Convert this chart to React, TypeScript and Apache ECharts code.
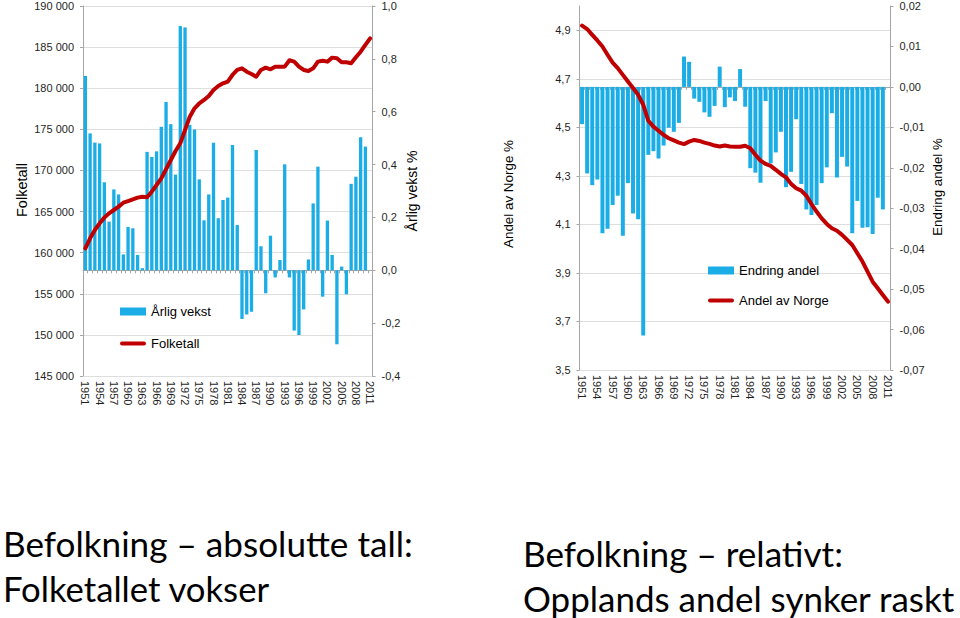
import React, { useEffect, useRef } from 'react';
import * as echarts from 'echarts';

const years = [
  '1951', '1952', '1953', '1954', '1955', '1956', '1957', '1958', '1959', '1960',
  '1961', '1962', '1963', '1964', '1965', '1966', '1967', '1968', '1969', '1970',
  '1971', '1972', '1973', '1974', '1975', '1976', '1977', '1978', '1979', '1980',
  '1981', '1982', '1983', '1984', '1985', '1986', '1987', '1988', '1989', '1990',
  '1991', '1992', '1993', '1994', '1995', '1996', '1997', '1998', '1999', '2000',
  '2001', '2002', '2003', '2004', '2005', '2006', '2007', '2008', '2009', '2010',
  '2011',
];

// Left chart: population (left axis) and annual growth % (right axis)
const folketall = [
  160530, 161750, 162760, 163570, 164260, 164790, 165190, 165600, 166080, 166280,
  166490, 166690, 166810, 166730, 167420, 168230, 169040, 170140, 171270, 172370,
  173300, 174920, 176540, 177560, 178170, 178570, 179060, 179790, 180270, 180600,
  180810, 181610, 182220, 182420, 182010, 181730, 181400, 182220, 182500, 182300,
  182620, 182620, 182620, 183400, 183230, 182620, 182220, 182100, 182420, 183230,
  183350, 183230, 183720, 183640, 183150, 183150, 183030, 183760, 184440, 185260,
  186070,
];

const arligVekst: (number | null)[] = [
  0.735, 0.518, 0.483, 0.48, 0.333, 0.184, 0.306, 0.287, 0.06, 0.164,
  0.159, 0.058, 0.008, 0.448, 0.429, 0.45, 0.543, 0.637, 0.553, 0.362,
  0.924, 0.919, 0.55, 0.533, 0.344, 0.189, 0.287, 0.483, 0.197, 0.266,
  0.275, 0.474, 0.171, -0.184, -0.167, -0.157, 0.455, 0.091, -0.087, 0.131,
  -0.027, 0.039, 0.401, -0.027, -0.228, -0.245, -0.148, 0.041, 0.253, 0.392,
  -0.1, 0.188, 0.058, -0.28, 0.014, -0.091, 0.327, 0.354, 0.503, 0.468,
  null,
];

// Right chart: share of Norway % (left axis) and change in share (right axis)
const andelNorge = [
  4.919, 4.905, 4.881, 4.858, 4.833, 4.799, 4.767, 4.744, 4.716, 4.689,
  4.662, 4.634, 4.593, 4.527, 4.503, 4.486, 4.469, 4.455, 4.446, 4.437,
  4.431, 4.441, 4.448, 4.444, 4.437, 4.432, 4.425, 4.421, 4.425, 4.421,
  4.42, 4.42, 4.424, 4.414, 4.387, 4.363, 4.349, 4.341, 4.325, 4.308,
  4.294, 4.267, 4.249, 4.239, 4.218, 4.184, 4.153, 4.125, 4.102, 4.084,
  4.074, 4.057, 4.036, 4.015, 3.981, 3.947, 3.905, 3.864, 3.837, 3.809,
  3.782,
];

const endringAndel: (number | null)[] = [
  -0.0092, -0.0214, -0.0243, -0.0229, -0.0362, -0.0351, -0.0292, -0.0269, -0.0368, -0.0238,
  -0.0313, -0.0327, -0.0615, -0.0168, -0.0159, -0.0177, -0.0145, -0.0101, -0.0111, -0.0089,
  0.0075, 0.0062, -0.0029, -0.0037, -0.0063, -0.0074, -0.0047, 0.005, -0.005, -0.0026,
  -0.0035, 0.0044, -0.0049, -0.0201, -0.0212, -0.0237, -0.0035, -0.0189, -0.0162, -0.0111,
  -0.0248, -0.021, -0.008, -0.024, -0.0303, -0.0317, -0.0292, -0.0238, -0.0199, -0.0065,
  -0.0224, -0.0173, -0.0197, -0.0362, -0.0282, -0.0348, -0.0347, -0.0364, -0.0274, -0.0303,
  null,
];

const captionLeft = ['Befolkning \u2013 absolutte tall:', 'Folketallet vokser'];
const captionRight = ['Befolkning \u2013 relativt:', 'Opplands andel synker raskt'];

const FONT = '"Liberation Sans", Arial, sans-serif';
const CAPTION_FONT = 'Lato, "Open Sans", sans-serif';
const AXIS_COLOR = '#a6a6a6';
const GRID_COLOR = '#dedede';
const LABEL_COLOR = '#1f1f1f';
const BLUE = '#1aade6';
const RED = '#c00000';
const LINE_ICON = 'path://M2,0L24,0A2,2,0,0,1,24,4L2,4A2,2,0,0,1,2,0Z';

const clean = (v: number) => (Math.abs(v) < 1e-9 ? 0 : v);
const fmt1 = (v: number) => clean(v).toFixed(1).replace('.', ',');
const fmt2 = (v: number) => clean(v).toFixed(2).replace('.', ',');
const fmtThousands = (v: number) =>
  String(Math.round(v)).replace(/\B(?=(\d{3})+(?!\d))/g, ' ');

function fitFontSize(text: string, family: string, target: number): number {
  const canvas = document.createElement('canvas');
  const ctx = canvas.getContext('2d');
  if (!ctx) return 36;
  ctx.font = `100px ${family}`;
  const w = ctx.measureText(text).width;
  return w > 0 ? (100 * target) / w : 36;
}

function categoryAxis(gridIndex: number) {
  return {
    type: 'category',
    gridIndex,
    data: years,
    boundaryGap: true,
    axisLine: { show: true, lineStyle: { color: AXIS_COLOR, width: 1 } },
    axisTick: { show: true, interval: 0, length: 3, lineStyle: { color: AXIS_COLOR } },
    axisLabel: {
      interval: 2,
      rotate: -90,
      margin: 5,
      fontSize: 11,
      color: LABEL_COLOR,
      fontFamily: FONT,
    },
    splitLine: { show: false },
  };
}

function valueAxisBase(gridIndex: number, position: 'left' | 'right') {
  return {
    type: 'value',
    gridIndex,
    position,
    axisLine: { show: true, lineStyle: { color: AXIS_COLOR, width: 1 } },
    axisTick: { show: true, length: 3, lineStyle: { color: AXIS_COLOR } },
    axisLabel: { margin: 9, fontSize: 11, color: LABEL_COLOR, fontFamily: FONT },
    splitLine: { show: false },
  };
}

export default function App() {
  const ref = useRef<HTMLDivElement>(null);

  useEffect(() => {
    const el = ref.current;
    if (!el) return;
    const chart = echarts.init(el, undefined, { renderer: 'svg' });

    const capSizes = [
      fitFontSize(captionLeft[0], CAPTION_FONT, 410),
      fitFontSize(captionLeft[1], CAPTION_FONT, 267),
      fitFontSize(captionRight[0], CAPTION_FONT, 320),
      fitFontSize(captionRight[1], CAPTION_FONT, 432),
    ];

    const axisName = (text: string, x: number, y: number, size: number) => ({
      type: 'text',
      x,
      y,
      rotation: Math.PI / 2,
      silent: true,
      style: {
        text,
        fontSize: size,
        fontFamily: FONT,
        fill: '#000',
        align: 'center',
        verticalAlign: 'middle',
        textAlign: 'center',
        textVerticalAlign: 'middle',
      },
    });

    const caption = (text: string, x: number, y: number, size: number) => ({
      type: 'text',
      x,
      y,
      silent: true,
      style: {
        text,
        fontSize: size,
        fontFamily: CAPTION_FONT,
        fill: '#000',
        align: 'left',
        verticalAlign: 'middle',
        textAlign: 'left',
        textVerticalAlign: 'middle',
      },
    });

    const option: any = {
      animation: false,
      backgroundColor: '#fff',
      textStyle: { fontFamily: FONT },
      grid: [
        { left: 83, top: 6, width: 289.5, height: 370, containLabel: false },
        { left: 579.5, top: 6, width: 311, height: 364, containLabel: false },
      ],
      xAxis: [categoryAxis(0), categoryAxis(1)],
      yAxis: [
        {
          ...valueAxisBase(0, 'left'),
          min: 145000,
          max: 190000,
          interval: 5000,
          axisLabel: { ...valueAxisBase(0, 'left').axisLabel, formatter: fmtThousands },
          splitLine: { show: true, lineStyle: { color: GRID_COLOR, width: 1 } },
        },
        {
          ...valueAxisBase(0, 'right'),
          min: -0.4,
          max: 1.0,
          interval: 0.2,
          axisLabel: { ...valueAxisBase(0, 'right').axisLabel, formatter: fmt1 },
        },
        {
          ...valueAxisBase(1, 'left'),
          min: 3.5,
          max: 5.0,
          interval: 0.2,
          axisLabel: {
            ...valueAxisBase(1, 'left').axisLabel,
            showMaxLabel: false,
            formatter: (v: number) => (Math.abs(v - 5) < 1e-6 ? '' : fmt1(v)),
          },
          splitLine: {
            show: true,
            showMaxLine: false,
            lineStyle: { color: GRID_COLOR, width: 1 },
          },
        },
        {
          ...valueAxisBase(1, 'right'),
          min: -0.07,
          max: 0.02,
          interval: 0.01,
          axisLabel: { ...valueAxisBase(1, 'right').axisLabel, formatter: fmt2 },
        },
      ],
      legend: [
        {
          data: [
            { name: '\u00c5rlig vekst', icon: 'rect' },
            { name: 'Folketall', icon: LINE_ICON },
          ],
          orient: 'vertical',
          left: 120,
          top: 305,
          padding: 0,
          itemWidth: 26,
          itemHeight: 8,
          itemGap: 19,
          selectedMode: false,
          textStyle: { fontSize: 13, fontFamily: FONT, color: '#000' },
        },
        {
          data: [
            { name: 'Endring andel', icon: 'rect' },
            { name: 'Andel av Norge', icon: LINE_ICON },
          ],
          orient: 'vertical',
          left: 708,
          top: 264,
          padding: 0,
          itemWidth: 26,
          itemHeight: 8,
          itemGap: 17,
          selectedMode: false,
          textStyle: { fontSize: 13, fontFamily: FONT, color: '#000' },
        },
      ],
      series: [
        {
          name: '\u00c5rlig vekst',
          type: 'bar',
          xAxisIndex: 0,
          yAxisIndex: 1,
          data: arligVekst,
          barCategoryGap: '30%',
          itemStyle: { color: BLUE },
        },
        {
          name: 'Folketall',
          type: 'line',
          xAxisIndex: 0,
          yAxisIndex: 0,
          data: folketall,
          symbol: 'none',
          showSymbol: false,
          lineStyle: { color: RED, width: 4, cap: 'round', join: 'round' },
          itemStyle: { color: RED },
        },
        {
          name: 'Endring andel',
          type: 'bar',
          xAxisIndex: 1,
          yAxisIndex: 3,
          data: endringAndel,
          barCategoryGap: '22%',
          itemStyle: { color: BLUE },
        },
        {
          name: 'Andel av Norge',
          type: 'line',
          xAxisIndex: 1,
          yAxisIndex: 2,
          data: andelNorge,
          symbol: 'none',
          showSymbol: false,
          lineStyle: { color: RED, width: 4, cap: 'round', join: 'round' },
          itemStyle: { color: RED },
        },
      ],
      graphic: [
        axisName('Folketall', 22, 190, 14.5),
        axisName('\u00c5rlig vekst %', 412, 191, 14),
        axisName('Andel av Norge %', 508, 194, 13.4),
        axisName('Endring andel %', 937.5, 187, 13.3),
        caption(captionLeft[0], 3, 543, capSizes[0]),
        caption(captionLeft[1], 3, 588, capSizes[1]),
        caption(captionRight[0], 523, 553, capSizes[2]),
        caption(captionRight[1], 523, 598, capSizes[3]),
      ],
    };

    chart.setOption(option);
    return () => {
      chart.dispose();
    };
  }, []);

  return (
    <div
      ref={ref}
      style={{ position: 'absolute', left: 0, top: 0, width: 960, height: 618 }}
    />
  );
}
